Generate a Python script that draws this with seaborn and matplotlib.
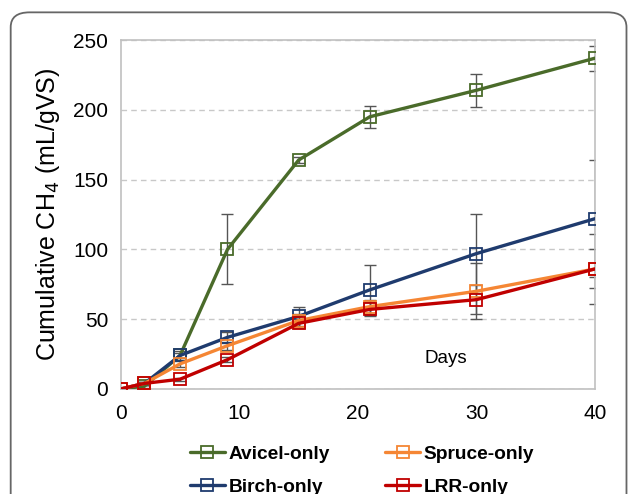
import pandas as pd
import matplotlib.pyplot as plt
import seaborn as sns
from matplotlib.patches import FancyBboxPatch

sns.set_style("white")
plt.rcParams["font.family"] = ["Liberation Sans", "DejaVu Sans"]
plt.rcParams["text.color"] = "black"
plt.rcParams["axes.labelcolor"] = "black"
plt.rcParams["xtick.color"] = "black"
plt.rcParams["ytick.color"] = "black"

# Data
days = [0, 2, 5, 9, 15, 21, 30, 40]
avicel = [0, 2, 24, 100, 164, 195, 214, 237]
avicel_err = [0, 1, 3, 25, 2, 8, 12, 9]
birch = [0, 4, 24, 37, 52, 71, 97, 122]
birch_err = [0, 1, 2, 4, 7, 18, 28, 42]
spruce = [0, 4, 18, 31, 49, 59, 70, 86]
spruce_err = [0, 1, 2, 3, 5, 5, 20, 14]
lrr = [0, 4, 7, 21, 47, 57, 64, 86]
lrr_err = [0, 1, 1, 2, 3, 5, 10.5, 25]

series = [
    ("Avicel-only", avicel, avicel_err, "#4A6B2A"),
    ("Birch-only", birch, birch_err, "#1F3B6E"),
    ("Spruce-only", spruce, spruce_err, "#F58634"),
    ("LRR-only", lrr, lrr_err, "#C00000"),
]

fig = plt.figure(figsize=(6.29, 4.94), dpi=100)
ax = fig.add_axes([0.192, 0.2126, 0.754, 0.7064])

for name, vals, err, color in series:
    df = pd.DataFrame({"day": days, "ch4": vals})
    sns.lineplot(data=df, x="day", y="ch4", ax=ax, color=color, linewidth=2.4,
                 marker="s", markersize=9, markerfacecolor="none",
                 markeredgecolor=color, markeredgewidth=1.3, label=name, zorder=3)
    ax.errorbar(days, vals, yerr=err, fmt="none", ecolor="#555555",
                elinewidth=1, capsize=4, capthick=1, zorder=2)

ax.set_xlim(0, 40)
ax.set_ylim(0, 250)
ax.set_xticks([0, 10, 20, 30, 40])
ax.set_yticks([0, 50, 100, 150, 200, 250])
ax.tick_params(labelsize=15, length=0)
ax.tick_params(axis="x", pad=11)
ax.tick_params(axis="y", pad=9)
ax.set_xlabel("")
ax.set_ylabel("Cumulative CH$_4$ (mL/gVS)", fontsize=18, labelpad=8)
ax.yaxis.grid(True, linestyle=(0, (4, 3)), color="#C8C8C8", linewidth=1)
for side in ["left", "bottom", "right", "top"]:
    ax.spines[side].set_color("#C0C0C0")
    ax.spines[side].set_linewidth(1.2)

ax.text(27.4, 22, "Days", fontsize=13.5, ha="center", va="center")

handles, labels = ax.get_legend_handles_labels()
ax.get_legend().remove()
fig.legend(handles, labels,
           loc="upper left", bbox_to_anchor=(0.29, 0.114), ncol=2,
           frameon=False, prop={"weight": "bold", "size": 13.8},
           handlelength=1.8, handletextpad=0.2, columnspacing=2.9,
           labelspacing=0.8, borderaxespad=0)

frame = FancyBboxPatch((0.017, -0.2), 0.979, 1.175,
                       boxstyle="round,pad=0,rounding_size=0.03",
                       transform=fig.transFigure, fill=False,
                       edgecolor="#666666", linewidth=1.3)
fig.patches.append(frame)

fig.savefig("out.png", dpi=100)
